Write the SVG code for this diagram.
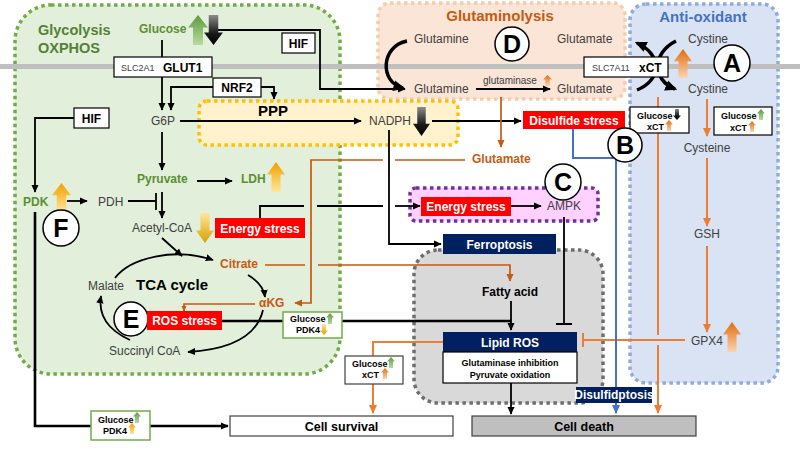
<svg xmlns="http://www.w3.org/2000/svg" width="800" height="450" viewBox="0 0 800 450">
<defs>
<style>
text{font-family:"Liberation Sans",Arial,sans-serif}
.lbl{font-size:12px;fill:#404040}
.gb{font-size:12px;font-weight:bold;fill:#5b8f33}
.ob{font-size:12px;font-weight:bold;fill:#c55a11}
.wb{font-size:12px;font-weight:bold;fill:#fff;text-anchor:middle}
.bk{font-weight:bold;fill:#000}
.sm{font-size:9px;font-weight:bold;fill:#000}
.mid{text-anchor:middle}
.ln{fill:none;stroke:#000;stroke-width:1.8}
.lnk{fill:none;stroke:#000;stroke-width:2.6}
.lo{fill:none;stroke:#ed7d31;stroke-width:2}
.lb{fill:none;stroke:#c55a11;stroke-width:1.7}
.lbl2{fill:none;stroke:#4472c4;stroke-width:2}
.box{fill:#fff;stroke:#000;stroke-width:1.2}
.red{fill:#ff0000}
.navy{fill:#002060}
.circ{fill:#fff;stroke:#000;stroke-width:1.5}
.let{font-size:25px;font-weight:bold;text-anchor:middle;fill:#000}
.reg{stroke-width:3.5;stroke-dasharray:3.5 3.5}
</style>
<linearGradient id="gG" x1="0" y1="0" x2="0" y2="1"><stop offset="0" stop-color="#5b9b3a"/><stop offset="1" stop-color="#b9dba0"/></linearGradient>
<linearGradient id="gK" x1="0" y1="0" x2="0" y2="1"><stop offset="0" stop-color="#8c8c8c"/><stop offset="0.6" stop-color="#1a1a1a"/><stop offset="1" stop-color="#000"/></linearGradient>
<linearGradient id="gO" x1="0" y1="0" x2="0" y2="1"><stop offset="0" stop-color="#e36c09"/><stop offset="1" stop-color="#fbd4b4"/></linearGradient>
<linearGradient id="gY" x1="0" y1="0" x2="0" y2="1"><stop offset="0" stop-color="#f0a000"/><stop offset="1" stop-color="#ffe699"/></linearGradient>
<linearGradient id="gYd" x1="0" y1="0" x2="0" y2="1"><stop offset="0" stop-color="#ffe699"/><stop offset="1" stop-color="#d9a000"/></linearGradient>
<path id="ua" d="M0.5,0 L1,0.42 L0.75,0.42 L0.75,1 L0.25,1 L0.25,0.42 L0,0.42 Z"/>
<path id="da" d="M0.25,0 L0.75,0 L0.75,0.58 L1,0.58 L0.5,1 L0,0.58 L0.25,0.58 Z"/>
<marker id="mk" viewBox="0 0 10 10" refX="9" refY="5" markerWidth="8" markerHeight="8" markerUnits="userSpaceOnUse" orient="auto"><path d="M0,0.5 L10,5 L0,9.5 Z" fill="#000"/></marker>
<marker id="mkL" viewBox="0 0 10 10" refX="8" refY="5" markerWidth="12" markerHeight="12" markerUnits="userSpaceOnUse" orient="auto"><path d="M0,0.5 L10,5 L0,9.5 Z" fill="#000"/></marker>
<marker id="mo" viewBox="0 0 10 10" refX="9" refY="5" markerWidth="9" markerHeight="9" markerUnits="userSpaceOnUse" orient="auto"><path d="M0,0.5 L10,5 L0,9.5 Z" fill="#ed7d31"/></marker>
<marker id="mb" viewBox="0 0 10 10" refX="9" refY="5" markerWidth="8" markerHeight="8" markerUnits="userSpaceOnUse" orient="auto"><path d="M0,0.5 L10,5 L0,9.5 Z" fill="#c55a11"/></marker>
<marker id="mbs" viewBox="0 0 10 10" refX="9" refY="5" markerWidth="6" markerHeight="6" markerUnits="userSpaceOnUse" orient="auto"><path d="M0,0.5 L10,5 L0,9.5 Z" fill="#c55a11"/></marker>
<marker id="mbl" viewBox="0 0 10 10" refX="9" refY="5" markerWidth="9" markerHeight="9" markerUnits="userSpaceOnUse" orient="auto"><path d="M0,0.5 L10,5 L0,9.5 Z" fill="#4472c4"/></marker>
</defs>

<rect width="800" height="450" fill="#fff"/>

<g id="regions">
<rect id="glycolysis-region" class="reg" x="15" y="5" width="325" height="369" rx="36" fill="#e2efda" stroke="#70ad47"/>
<rect id="glutaminolysis-region" class="reg" x="378" y="3" width="247" height="96" rx="12" fill="#fbe5d6" stroke="#f8cbad"/>
<rect id="antioxidant-region" class="reg" x="630" y="4" width="148" height="379" rx="16" fill="#dae3f3" stroke="#8faadc"/>
<rect id="ppp-region" class="reg" x="199" y="101" width="259" height="44" rx="8" fill="#fff2cc" stroke="#ffc000"/>
<rect id="ampk-region" class="reg" x="410" y="188" width="188" height="33" rx="6" fill="#ffd1ff" stroke="#7030a0"/>
<rect id="death-region" class="reg" x="414" y="250" width="189" height="153" rx="24" fill="#d9d9d9" stroke="#6e6e6e"/>
<rect id="membrane" x="0" y="64" width="800" height="5" fill="#bfbfbf"/>
<text x="38" y="35" font-size="14.5" font-weight="bold" fill="#548235">Glycolysis</text>
<text x="38" y="53" font-size="14.5" font-weight="bold" fill="#548235">OXPHOS</text>
<text x="500" y="21" font-size="15" font-weight="bold" fill="#c55a11" text-anchor="middle">Glutaminolysis</text>
<text x="703" y="22" font-size="15" font-weight="bold" fill="#4472c4" text-anchor="middle">Anti-oxidant</text>
<text x="273" y="116" font-size="15" font-weight="bold" fill="#000" text-anchor="middle">PPP</text>
<text x="172" y="290" font-size="15" font-weight="bold" fill="#000" text-anchor="middle">TCA cycle</text>
</g>

<g id="connectors">
<!-- glucose to glutamine -->
<path class="ln" d="M215,30 H320 V89 H405" marker-end="url(#mk)"/>
<path class="ln" d="M162,40 V110" marker-end="url(#mk)"/>
<path class="ln" d="M213,87 H171 V110" marker-end="url(#mk)"/>
<path class="ln" d="M261,87 H274 V99" marker-end="url(#mk)"/>
<path class="ln" d="M180,121 H361" marker-end="url(#mk)"/>
<path class="ln" d="M432,121 H521" marker-end="url(#mk)"/>
<path class="ln" d="M389,130 V244 H441" marker-end="url(#mk)"/>
<path class="ln" d="M74,118 H35 V192" marker-end="url(#mk)"/>
<path class="ln" d="M67,201 H87" marker-end="url(#mk)"/>
<path class="ln" d="M128,201 H156 M156,193 V210"/>
<path class="ln" d="M162,132 V170" marker-end="url(#mk)"/>
<path class="ln" d="M197,181 H232" marker-end="url(#mk)"/>
<path class="ln" d="M162,192 V218" marker-end="url(#mk)"/>
<path class="ln" d="M260,218 V206 H304 M317,206 H383"/>
<path class="ln" d="M395,206 H420" marker-end="url(#mk)"/>
<path class="ln" d="M511,206 H541" marker-end="url(#mk)"/>
<path class="ln" d="M564,217 V324 M556,324 H572"/>
<!-- glutaminolysis -->
<path d="M407,41 C381,46 379,82 403,88" fill="none" stroke="#000" stroke-width="3.5" marker-end="url(#mkL)"/>
<path class="ln" d="M476,89 H550" marker-end="url(#mk)"/>
<path class="lb" d="M501,97 V147" marker-end="url(#mb)"/>
<path class="lb" d="M465,160 H395"/>
<path class="lb" d="M383,160 H311 V303 H295" marker-end="url(#mb)"/>
<path class="lb" d="M265,265 H305 M318,265 H510 V281" marker-end="url(#mb)"/>
<path class="lb" d="M255,304 H184 V311" marker-end="url(#mbs)"/>
<!-- TCA cycle -->
<path class="ln" d="M115,278 C130,258 175,247 213,260" marker-end="url(#mk)"/>
<path class="ln" d="M162,238 L182,256" marker-end="url(#mk)"/>
<path class="ln" d="M248,275 C258,281 264,289 265,297" marker-end="url(#mk)"/>
<path class="ln" d="M263,310 C256,340 222,350 188,352" marker-end="url(#mk)"/>
<path class="ln" d="M130,340 C108,330 98,315 101,296" marker-end="url(#mk)"/>
<!-- xCT antiporter -->
<path d="M637,90 C662,80 662,54 637,43" fill="none" stroke="#000" stroke-width="3.5" marker-end="url(#mkL)"/>
<path d="M676,41 C652,53 652,80 675,89" fill="none" stroke="#000" stroke-width="3.5" marker-end="url(#mkL)"/>
<!-- antioxidant -->
<path class="lo" d="M707,99 V136" marker-end="url(#mo)"/>
<path class="lo" d="M707,158 V226" marker-end="url(#mo)"/>
<path class="lo" d="M707,246 V332" marker-end="url(#mo)"/>
<path class="lo" d="M685,340 H583 M583,333 V347"/>
<path class="lo" d="M658,97 V335"/>
<path class="lo" d="M658,345 V413" marker-end="url(#mo)"/>
<path class="lbl2" d="M573,129 V158 H616 V413" marker-end="url(#mbl)"/>
<!-- lipid ROS / outcomes -->
<path class="lnk" d="M222,321 H283 M342,321 H511"/>
<path class="ln" d="M511,301 V330" marker-end="url(#mk)"/>
<path class="ln" d="M511,383 V414" marker-end="url(#mk)"/>
<path class="lo" d="M443,342 H373 V413" marker-end="url(#mo)"/>
<path class="lnk" d="M35,212 V426 H228" marker-end="url(#mk)"/>
</g>

<g id="node-glucose"><text class="gb" x="139" y="33">Glucose</text>
<use href="#ua" transform="translate(188,15) scale(20,30)" fill="url(#gG)"/>
<use href="#da" transform="translate(204,15) scale(19,30)" fill="url(#gK)"/></g>
<g id="node-hif-top"><rect class="box" x="282" y="33" width="33" height="20"/><text class="bk mid" x="298.5" y="47.5" font-size="12">HIF</text></g>
<g id="node-glut1"><rect class="box" x="114" y="57" width="98" height="20"/><text x="121" y="71" font-size="9" fill="#404040">SLC2A1</text><text class="bk" x="163" y="72" font-size="12">GLUT1</text></g>
<g id="node-nrf2"><rect class="box" x="213" y="78" width="48" height="19"/><text class="bk mid" x="237" y="92" font-size="12">NRF2</text></g>
<g id="node-g6p"><text class="lbl" x="151" y="125">G6P</text></g>
<g id="node-nadph"><text class="lbl" x="369" y="125">NADPH</text>
<use href="#da" transform="translate(413,107) scale(17,29)" fill="url(#gK)"/></g>
<g id="node-hif-left"><rect class="box" x="74" y="108" width="35" height="20"/><text class="bk mid" x="91.5" y="122.5" font-size="12">HIF</text></g>
<g id="node-pyruvate"><text class="gb" x="137" y="183">Pyruvate</text></g>
<g id="node-ldh"><text class="gb" x="241" y="183">LDH</text><use href="#ua" transform="translate(267,162) scale(18,30)" fill="url(#gY)"/></g>
<g id="node-pdk"><text class="gb" x="23" y="206">PDK</text><use href="#ua" transform="translate(52,183) scale(19,29)" fill="url(#gY)"/></g>
<g id="node-pdh"><text class="lbl" x="98" y="206">PDH</text></g>
<g id="node-F"><circle class="circ" cx="61" cy="228" r="18"/><text class="let" x="61" y="237">F</text></g>
<g id="node-acetylcoa"><text class="lbl" x="132" y="232">Acetyl-CoA</text><use href="#da" transform="translate(196,213) scale(18,30)" fill="url(#gYd)"/></g>
<g id="node-energy-left"><rect class="red" x="215" y="218" width="90" height="20"/><text class="wb" x="260" y="232.5">Energy stress</text></g>
<g id="node-citrate"><text class="ob" x="220" y="268">Citrate</text></g>
<g id="node-malate"><text class="lbl" x="88" y="290">Malate</text></g>
<g id="node-akg"><text class="ob" x="259" y="307">αKG</text></g>
<g id="node-E"><circle class="circ" cx="131" cy="319" r="17"/><text class="let" x="131" y="328">E</text></g>
<g id="node-ros-stress"><rect class="red" x="147" y="311" width="75" height="19"/><text class="wb" x="184.5" y="325">ROS stress</text></g>
<g id="node-succinyl"><text class="lbl" x="109" y="355">Succinyl CoA</text></g>
<g id="node-box-pdk4-down"><rect x="283" y="312" width="59" height="26" fill="#fff" stroke="#70ad47" stroke-width="1.5"/>
<text class="sm" x="290" y="322">Glucose</text><use href="#ua" transform="translate(326,313) scale(8,11)" fill="url(#gG)"/>
<text class="sm" x="296" y="333">PDK4</text><use href="#da" transform="translate(320,324) scale(8,11)" fill="url(#gYd)"/></g>
<g id="node-box-pdk4-up"><rect x="91" y="411" width="59" height="29" fill="#fff" stroke="#70ad47" stroke-width="1.5"/>
<text class="sm" x="98" y="423">Glucose</text><use href="#ua" transform="translate(133,412) scale(8,11)" fill="url(#gG)"/>
<text class="sm" x="103" y="434">PDK4</text><use href="#ua" transform="translate(128,423) scale(8,11)" fill="url(#gY)"/></g>

<g id="node-glutamine-out"><text class="lbl" x="414" y="43">Glutamine</text></g>
<g id="node-D"><circle class="circ" cx="512" cy="44" r="17"/><text class="let" x="512" y="53">D</text></g>
<g id="node-glutamate-out"><text class="lbl" x="557" y="43">Glutamate</text></g>
<g id="node-glutamine-in"><text class="lbl" x="414" y="93">Glutamine</text></g>
<g id="node-glutaminase"><text x="483" y="84" font-size="10" fill="#404040">glutaminase</text><use href="#ua" transform="translate(543,75) scale(9,11)" fill="url(#gO)"/></g>
<g id="node-glutamate-in"><text class="lbl" x="557" y="93">Glutamate</text></g>
<g id="node-glutamate"><text class="ob" x="472" y="163">Glutamate</text></g>

<g id="node-xct"><rect class="box" x="584" y="57" width="84" height="20"/><text x="592" y="71" font-size="9" fill="#404040">SLC7A11</text><text class="bk" x="639" y="72" font-size="12">xCT</text>
<use href="#ua" transform="translate(674,49) scale(18,29)" fill="url(#gO)"/></g>
<g id="node-cystine-out"><text class="lbl" x="688" y="43">Cystine</text></g>
<g id="node-A"><circle class="circ" cx="732" cy="63" r="18"/><text class="let" x="732" y="72">A</text></g>
<g id="node-cystine-in"><text class="lbl" x="688" y="93">Cystine</text></g>
<g id="node-box-xct1"><rect class="box" x="630" y="107" width="59" height="26" stroke-width="1"/>
<text class="sm" x="637" y="118.5">Glucose</text><use href="#da" transform="translate(673,109) scale(8,11)" fill="url(#gK)"/>
<text class="sm" x="647" y="130">xCT</text><use href="#ua" transform="translate(665,120) scale(8,11)" fill="url(#gO)"/></g>
<g id="node-box-xct2"><rect class="box" x="714" y="107" width="58" height="28" stroke-width="1"/>
<text class="sm" x="721" y="119">Glucose</text><use href="#ua" transform="translate(757,109) scale(8,11)" fill="url(#gG)"/>
<text class="sm" x="730" y="131">xCT</text><use href="#ua" transform="translate(748,121) scale(8,11)" fill="url(#gO)"/></g>
<g id="node-disulfide-stress"><rect class="red" x="523" y="111" width="102" height="18"/><text class="wb" x="574" y="124.5">Disulfide stress</text></g>
<g id="node-B"><circle class="circ" cx="625" cy="145" r="17"/><text class="let" x="625" y="154">B</text></g>
<g id="node-cysteine"><text class="lbl mid" x="707" y="152">Cysteine</text></g>
<g id="node-gsh"><text class="lbl mid" x="707" y="238">GSH</text></g>
<g id="node-gpx4"><text class="lbl mid" x="707" y="345">GPX4</text><use href="#ua" transform="translate(723,322) scale(18,30)" fill="url(#gO)"/></g>

<g id="node-C"><circle class="circ" cx="563" cy="182" r="18"/><text class="let" x="563" y="191">C</text></g>
<g id="node-energy-ampk"><rect class="red" x="421" y="197" width="90" height="19"/><text class="wb" x="466" y="210.5">Energy stress</text></g>
<g id="node-ampk"><text class="lbl" x="547" y="210">AMPK</text></g>
<g id="node-ferroptosis"><rect class="navy" x="443" y="234" width="113" height="20"/><text class="wb" x="499.5" y="248.5">Ferroptosis</text></g>
<g id="node-fatty-acid"><text class="bk mid" x="510" y="296" font-size="12">Fatty acid</text></g>
<g id="node-lipid-ros"><rect class="navy" x="443" y="332" width="134" height="20"/><text class="wb" x="510" y="347" font-size="13">Lipid ROS</text>
<rect class="box" x="443" y="352" width="134" height="31" stroke-width="1"/>
<text class="sm mid" x="510" y="366" font-size="8.7">Glutaminase inhibition</text>
<text class="sm mid" x="510" y="378" font-size="8.7">Pyruvate oxidation</text></g>
<g id="node-box-xct3"><rect x="345" y="356" width="58" height="28" fill="#fff" stroke="#404040" stroke-width="1.2"/>
<text class="sm" x="352" y="367">Glucose</text><use href="#ua" transform="translate(387,357) scale(8,11)" fill="url(#gG)"/>
<text class="sm" x="362" y="378">xCT</text><use href="#ua" transform="translate(381,368) scale(8,11)" fill="url(#gO)"/></g>
<g id="node-disulfidptosis"><rect class="navy" x="576" y="387" width="76" height="16"/><text class="wb" x="614" y="398.5" font-size="9.5">Disulfidptosis</text></g>
<g id="node-cell-survival"><rect x="230" y="416" width="223" height="20" fill="#fff" stroke="#404040" stroke-width="1.2"/><text class="bk mid" x="341.5" y="430.5" font-size="12.5">Cell survival</text></g>
<g id="node-cell-death"><rect x="472" y="416" width="224" height="20" fill="#bfbfbf" stroke="#404040" stroke-width="1.2"/><text class="bk mid" x="584" y="430.5" font-size="12.5">Cell death</text></g>
</svg>
